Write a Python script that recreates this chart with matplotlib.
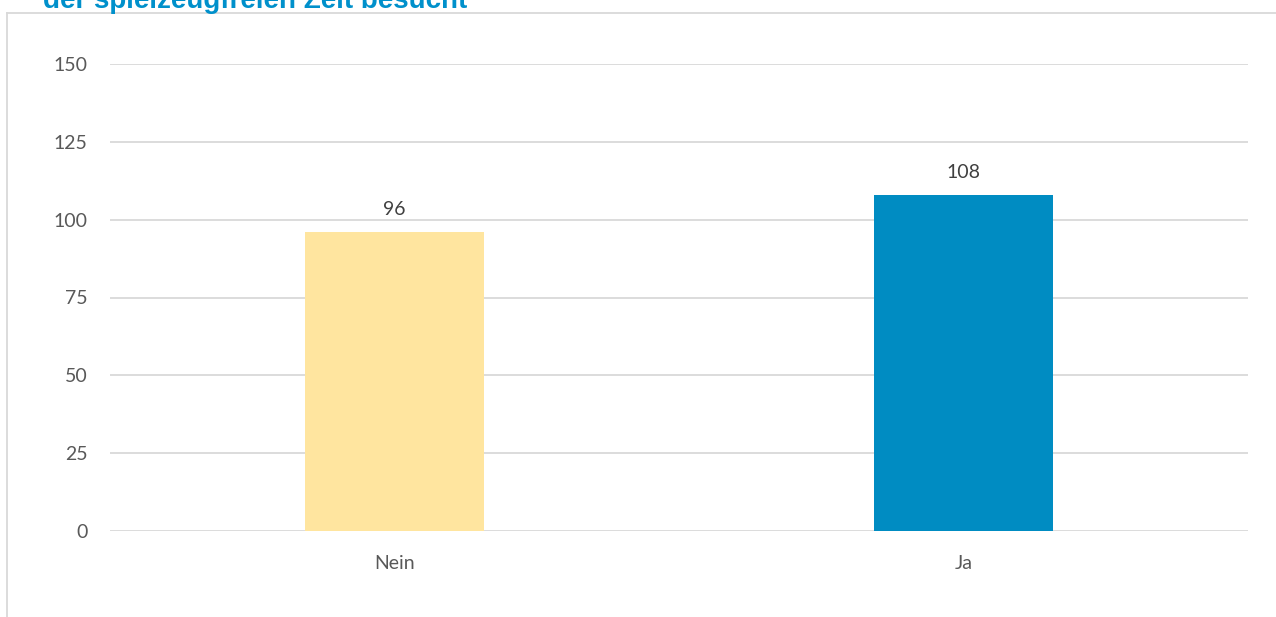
import matplotlib.pyplot as plt
from matplotlib.lines import Line2D

# data
categories = ["Nein", "Ja"]
values = [96, 108]
bar_colors = ["#FFE59F", "#008CC2"]
yticks = [0, 25, 50, 75, 100, 125, 150]
title = "der spielzeugfreien Zeit besucht"

W, H = 1276, 617
fig = plt.figure(figsize=(W / 100, H / 100), dpi=100)
ax = fig.add_axes([110 / W, (H - 531) / H, (1248 - 110) / W, (531 - 64) / H])

x = range(len(categories))
bars = ax.bar(x, values, width=0.315, color=bar_colors, zorder=3)
for b, v in zip(bars, values):
    ax.annotate(str(v), (b.get_x() + b.get_width() / 2, v), xytext=(0, 10),
                textcoords="offset points", ha="center", va="bottom",
                fontsize=14, color="#404040", family="Lato")

ax.set_xlim(-0.5, 1.5)
ax.set_ylim(0, 150)
ax.set_yticks(yticks)
ax.set_xticks(list(x))
ax.set_xticklabels(categories)
ax.grid(axis="y", color="#D9D9D9", linewidth=1.3, zorder=0)
for s in ax.spines.values():
    s.set_visible(False)
ax.tick_params(length=0, labelsize=14, labelcolor="#595959", pad=16)
ax.tick_params(axis="x", pad=17)
for lab in ax.get_xticklabels() + ax.get_yticklabels():
    lab.set_family("Lato")

# chart frame (top and left edges)
fig.add_artist(Line2D([7 / W, 1], [1 - 13 / H, 1 - 13 / H], color="#D9D9D9", lw=1.3))
fig.add_artist(Line2D([7 / W, 7 / W], [0, 1 - 13 / H], color="#D9D9D9", lw=1.3))

# title, cut off at the top like in the source
fig.text(43 / W, 1 - 8 / H, title, ha="left", va="baseline", fontsize=20,
         fontweight="bold", color="#0090CB", family="Liberation Sans")

fig.savefig("out.png", dpi=100)
